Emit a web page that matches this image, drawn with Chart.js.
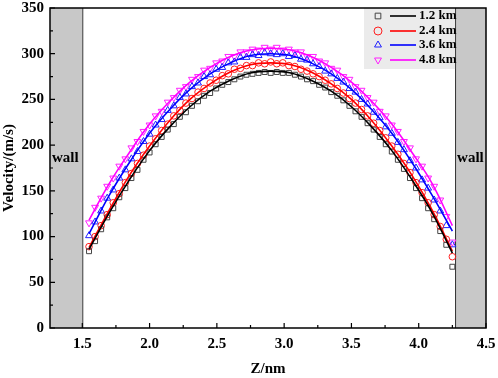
<!DOCTYPE html>
<html>
<head>
<meta charset="utf-8">
<script src="https://cdn.jsdelivr.net/npm/chart.js@4/dist/chart.umd.min.js"></script>
<style>
  body { margin: 0; background: #fff; }
</style>
</head>
<body>
<canvas id="velChart" width="498" height="378"></canvas>
<script>
// sampled positions (nm)
const zPos = [1.55,1.595,1.64,1.685,1.73,1.775,1.82,1.865,1.91,1.955,2.0,2.045,2.09,2.135,2.18,2.225,2.27,2.315,2.36,2.405,2.45,2.495,2.54,2.585,2.63,2.675,2.72,2.765,2.81,2.855,2.9,2.945,2.99,3.035,3.08,3.125,3.17,3.215,3.26,3.305,3.35,3.395,3.44,3.485,3.53,3.575,3.62,3.665,3.71,3.755,3.8,3.845,3.89,3.935,3.98,4.025,4.07,4.115,4.16,4.205,4.25];

const vel12 = [84,95,108,121,131,143,153,164,173,184,192,201,209,217,223,231,236,243,248,254,257,262,266,269,272,275,277,278,279,280,279,
  280,279,279,277,275,272,270,266,263,258,254,249,243,237,231,224,217,209,201,193,184,174,164,153,142,131,119,106,91,67];
const vel24 = [89,100,112,124,137,147,159,169,180,189,199,207,216,223,232,238,246,251,258,262,268,271,276,278,283,284,287,287,290,289,291,
  289,290,287,286,283,281,278,275,271,267,262,257,251,246,239,232,224,216,208,199,190,180,170,159,148,137,124,111,97,78];
const vel36 = [101,116,128,142,151,164,173,185,193,204,212,222,228,238,243,252,256,264,268,275,277,283,285,290,291,296,296,299,298,301,300,
  299,300,297,298,294,293,289,286,281,278,273,269,262,258,250,245,236,230,220,213,203,195,183,175,162,153,140,128,112,91];
const vel48 = [115,132,142,155,164,177,185,197,204,215,222,232,237,247,252,260,264,272,275,282,284,290,292,297,297,302,302,305,304,307,305,
  307,304,305,302,302,297,297,292,290,284,282,275,272,264,260,252,247,237,232,222,215,204,197,185,177,164,155,140,122,94];

// fitted curves
const fitZ = [1.55,1.7,1.85,2.0,2.15,2.3,2.45,2.6,2.75,2.9,3.05,3.2,3.35,3.5,3.65,3.8,3.95,4.1,4.25];
const fit12 = [86,126,162,194,220,242,259,271,279,281,279,271,259,242,220,194,162,126,82];
const fit24 = [88,129,167,199,227,250,267,280,288,290,288,280,267,250,227,199,167,129,84];
const fit36 = [103,145,181,213,239,261,278,290,298,300,298,290,278,261,239,213,181,145,106];
const fit48 = [118,158,192,223,248,269,285,297,304,306,304,297,285,269,248,223,192,158,112];

const labels = ["1.2 km","2.4 km","3.6 km","4.8 km"];
const colors = ["#000000","#ff0000","#0000ff","#ff00ff"];
const markerColors = ["#444444","#ff2020","#2020ff","#ff20ff"];
const markers = ["rect","circle","triangle","triangle"];
const markerRot = [0,0,0,180];

const xTicks = [1.5,2.0,2.5,3.0,3.5,4.0,4.5];
const yTicks = [0,50,100,150,200,250,300,350];
const wallLeft = [1.26,1.5];
const wallRight = [4.27,4.5];

const pts = (xs, ys) => xs.map((x, i) => ({x: x, y: ys[i]}));
const serif = 'Liberation Serif, Times New Roman, serif';

const dataSets = [vel12, vel24, vel36, vel48];
const fitSets = [fit12, fit24, fit36, fit48];
const datasets = [];
dataSets.forEach((d, i) => {
  datasets.push({
    label: labels[i],
    data: pts(zPos, d),
    showLine: false,
    pointStyle: markers[i],
    pointRotation: markerRot[i],
    pointRadius: markers[i] == 'rect' ? 3.5 : (markers[i] == 'circle' ? 3.3 : 4),
    pointBorderWidth: 1,
    pointBorderColor: markerColors[i],
    pointBackgroundColor: 'rgba(0,0,0,0)',
    order: 1
  });
});
fitSets.forEach((d, i) => {
  datasets.push({
    label: labels[i] + ' fit',
    data: pts(fitZ, d),
    showLine: true,
    borderColor: colors[i],
    borderWidth: 1.6,
    pointRadius: 0,
    tension: 0.4,
    order: 0
  });
});

const decor = {
  id: 'decor',
  beforeDatasetsDraw(chart) {
    const {ctx, chartArea: a, scales: {x}} = chart;
    ctx.save();
    ctx.fillStyle = '#c8c8c8';
    const xl = x.getPixelForValue(wallLeft[1]);
    const xr = x.getPixelForValue(wallRight[0]);
    ctx.fillRect(a.left, a.top, xl - a.left, a.bottom - a.top);
    ctx.fillRect(xr, a.top, a.right - xr, a.bottom - a.top);
    ctx.strokeStyle = '#333';
    ctx.lineWidth = 1;
    ctx.beginPath();
    ctx.moveTo(xl + 0.5, a.top); ctx.lineTo(xl + 0.5, a.bottom);
    ctx.moveTo(xr + 0.5, a.top); ctx.lineTo(xr + 0.5, a.bottom);
    ctx.stroke();
    ctx.fillStyle = '#000';
    ctx.font = 'bold 15px ' + serif;
    ctx.textBaseline = 'middle';
    ctx.textAlign = 'left';
    ctx.fillText('wall', a.left + 2, 158);
    ctx.fillText('wall', xr + 2, 158);
    ctx.restore();
  },
  afterDraw(chart) {
    const {ctx, chartArea: a, scales: {x, y}} = chart;
    ctx.save();
    // legend
    ctx.fillStyle = '#ebebeb';
    const lx = 364, lr = x.getPixelForValue(wallRight[0]);
    ctx.fillRect(lx, a.top, lr - lx, 61);
    const rows = [16, 31, 45, 60];
    ctx.font = 'bold 13px ' + serif;
    ctx.textBaseline = 'middle';
    ctx.textAlign = 'left';
    rows.forEach((ry, i) => {
      ctx.strokeStyle = markerColors[i];
      ctx.fillStyle = 'rgba(0,0,0,0)';
      ctx.lineWidth = 1;
      Chart.helpers.drawPoint(ctx, {pointStyle: markers[i], rotation: markerRot[i], radius: 4, borderWidth: 1}, 378, ry);
      ctx.strokeStyle = colors[i];
      ctx.lineWidth = 1.6;
      ctx.beginPath(); ctx.moveTo(390, ry); ctx.lineTo(416, ry); ctx.stroke();
      ctx.fillStyle = '#000';
      ctx.fillText(labels[i], 419, ry);
    });
    // frame
    ctx.strokeStyle = '#000';
    ctx.lineWidth = 1.5;
    ctx.strokeRect(a.left, a.top, a.right - a.left, a.bottom - a.top);
    // inward ticks
    ctx.lineWidth = 1.2;
    ctx.beginPath();
    xTicks.forEach((v, i) => {
      const px = x.getPixelForValue(v);
      ctx.moveTo(px, a.bottom); ctx.lineTo(px, a.bottom - 5);
      if (i < xTicks.length - 1) {
        const pm = x.getPixelForValue(v + 0.25);
        ctx.moveTo(pm, a.bottom); ctx.lineTo(pm, a.bottom - 3);
      }
    });
    yTicks.forEach((v, i) => {
      const py = y.getPixelForValue(v);
      ctx.moveTo(a.left, py); ctx.lineTo(a.left + 5, py);
      if (i < yTicks.length - 1) {
        const pm = y.getPixelForValue(v + 25);
        ctx.moveTo(a.left, pm); ctx.lineTo(a.left + 3, pm);
      }
    });
    ctx.stroke();
    ctx.restore();
  }
};

new Chart(document.getElementById('velChart'), {
  type: 'scatter',
  data: { datasets: datasets },
  plugins: [decor],
  options: {
    responsive: false,
    animation: false,
    layout: { padding: { top: 8, right: 12, left: 0, bottom: 0 } },
    plugins: { legend: { display: false }, tooltip: { enabled: false } },
    scales: {
      x: {
        type: 'linear',
        min: wallLeft[0],
        max: wallRight[1],
        afterBuildTicks: s => { s.ticks = xTicks.map(v => ({value: v})); },
        afterFit: s => { s.height = 50; s.paddingLeft = 0; s.paddingRight = 0; },
        grid: { display: false, drawTicks: false },
        border: { display: false },
        ticks: { color: '#000', padding: 7, font: { family: serif, weight: 'bold', size: 15 },
                 callback: v => v.toFixed(1) },
        title: { display: true, text: 'Z/nm', color: '#000', padding: 0,
                 font: { family: serif, weight: 'bold', size: 15 } }
      },
      y: {
        min: 0,
        max: 350,
        afterBuildTicks: s => { s.ticks = yTicks.map(v => ({value: v})); },
        afterFit: s => { s.width = 50; s.paddingTop = 0; s.paddingBottom = 0; },
        grid: { display: false, drawTicks: false },
        border: { display: false },
        ticks: { color: '#000', padding: 6, font: { family: serif, weight: 'bold', size: 15 } },
        title: { display: true, text: 'Velocity/(m/s)', color: '#000', padding: 0,
                 font: { family: serif, weight: 'bold', size: 15 } }
      }
    }
  }
});
</script>
</body>
</html>
